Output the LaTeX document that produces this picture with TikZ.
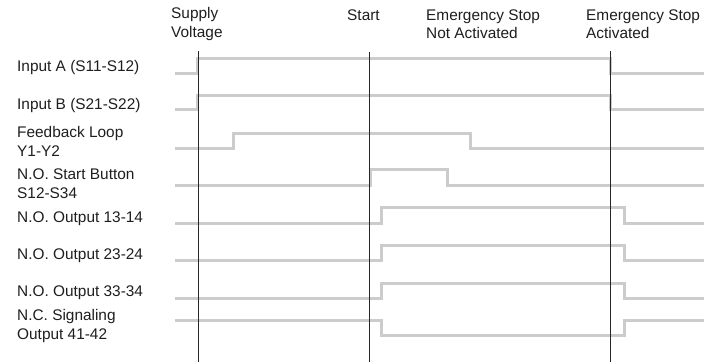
\documentclass[tikz,border=0pt]{standalone}
\usepackage{fontspec}
\setmainfont{Liberation Sans}
\definecolor{siggray}{RGB}{204,204,204}
\definecolor{txtgray}{RGB}{30,30,30}
\tikzset{
  lbl/.style={anchor=west, inner sep=0pt, align=left, text=txtgray,
    font=\fontsize{15.4}{18.5}\selectfont},
  sig/.style={draw=siggray, line width=3pt, line join=miter},
  evt/.style={draw=black!85, line width=0.9pt}
}
\begin{document}
\begin{tikzpicture}[x=1pt, y=1pt]
\useasboundingbox (0,0) rectangle (718,-362);
% event headers
\node[lbl] (supply) at (171,-24) {Supply\\Voltage};
\node[lbl] (start) at (347,-15) {Start};
\node[lbl] (esnot) at (426,-24) {Emergency Stop\\Not Activated};
\node[lbl] (esact) at (586,-24) {Emergency Stop\\Activated};
% signal names
\node[lbl] (ina) at (17,-68) {Input A (S11-S12)};
\node[lbl] (inb) at (17,-106) {Input B (S21-S22)};
\node[lbl] (fb) at (17,-141.5) {Feedback Loop\\Y1-Y2};
\node[lbl] (btn) at (17,-183.5) {N.O. Start Button\\S12-S34};
\node[lbl] (out1) at (17,-219) {N.O. Output 13-14};
\node[lbl] (out2) at (17,-256) {N.O. Output 23-24};
\node[lbl] (out3) at (17,-293) {N.O. Output 33-34};
\node[lbl] (sigout) at (17,-326) {N.C. Signaling\\Output 41-42};
% waveforms
\draw[sig] (175,-73) -- (197,-73) -- (197,-58) -- (610,-58) -- (610,-73) -- (704,-73);
\draw[sig] (175,-109) -- (197,-109) -- (197,-95) -- (610,-95) -- (610,-109) -- (704,-109);
\draw[sig] (175,-148) -- (233,-148) -- (233,-133) -- (470,-133) -- (470,-148) -- (704,-148);
\draw[sig] (175,-185) -- (370,-185) -- (370,-169) -- (447,-169) -- (447,-185) -- (704,-185);
\draw[sig] (175,-223) -- (381,-223) -- (381,-207) -- (624,-207) -- (624,-223) -- (704,-223);
\draw[sig] (175,-260) -- (381,-260) -- (381,-245) -- (624,-245) -- (624,-260) -- (704,-260);
\draw[sig] (175,-298) -- (381,-298) -- (381,-283) -- (624,-283) -- (624,-298) -- (704,-298);
\draw[sig] (175,-320) -- (381,-320) -- (381,-335) -- (624,-335) -- (624,-320) -- (704,-320);
% event markers
\coordinate (tsupply) at (198,-51);
\coordinate (tstart) at (369,-52);
\coordinate (tstop) at (610,-51);
\draw[evt] (tsupply) -- (tsupply |- 0,-362);
\draw[evt] (tstart) -- (tstart |- 0,-362);
\draw[evt] (tstop) -- (tstop |- 0,-362);
\end{tikzpicture}
\end{document}
